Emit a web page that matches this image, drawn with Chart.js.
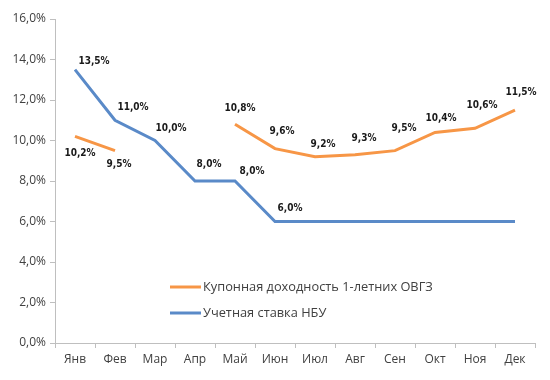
<!DOCTYPE html>
<html>
<head>
<meta charset="utf-8">
<script src="https://cdn.jsdelivr.net/npm/chart.js@4/dist/chart.umd.min.js"></script>
<style>
html,body{margin:0;padding:0;background:#fff;}
#wrap{width:550px;height:380px;position:relative;}
</style>
</head>
<body>
<div id="wrap"><canvas id="c" width="550" height="380"></canvas></div>
<script>
const categories = ['Янв','Фев','Мар','Апр','Май','Июн','Июл','Авг','Сен','Окт','Ноя','Дек'];
const seriesNames = ['Купонная доходность 1-летних ОВГЗ','Учетная ставка НБУ'];
const ovgzValues = [10.2, 9.5, null, null, 10.8, 9.6, 9.2, 9.3, 9.5, 10.4, 10.6, 11.5];
const nbuValues = [13.5, 11.0, 10.0, 8.0, 8.0, 6.0, 6.0, 6.0, 6.0, 6.0, 6.0, 6.0];
const nbuLabelShown = [true, true, true, true, true, true, false, false, false, false, false, false];
const yTicks = [0, 2, 4, 6, 8, 10, 12, 14, 16];

// label offset styling (px), per point
const ovgzLabelOffsets = [[5,17],[4,14],[0,0],[0,0],[5,-16],[7,-17],[8,-12],[9,-16],[9,-22],[6,-14],[7,-23],[6,-18]];
const nbuLabelOffsets = [[19,-8],[18,-13],[16,-12],[14,-17],[17,-10],[15,-13],[0,0],[0,0],[0,0],[0,0],[0,0],[0,0]];

const fmt = v => v.toFixed(1).replace('.', ',') + '%';

const labelPlugin = {
  id: 'pointLabels',
  afterDatasetsDraw(chart) {
    const ctx = chart.ctx;
    ctx.save();
    ctx.font = 'bold 10px "DejaVu Sans Condensed", "DejaVu Sans", sans-serif';
    ctx.fillStyle = '#1a1a1a';
    ctx.textAlign = 'center';
    ctx.textBaseline = 'middle';
    chart.data.datasets.forEach((ds, di) => {
      const meta = chart.getDatasetMeta(di);
      meta.data.forEach((pt, i) => {
        const v = ds.data[i];
        if (v === null || v === undefined) return;
        if (ds.showLabel && !ds.showLabel[i]) return;
        const off = ds.labelOffsets[i];
        ctx.fillText(fmt(v), pt.x + off[0], pt.y + off[1]);
      });
    });
    ctx.restore();
  }
};

const legendPlugin = {
  id: 'innerLegend',
  afterDraw(chart) {
    const ctx = chart.ctx;
    ctx.save();
    ctx.font = '12.8px "Open Sans", "Noto Sans", sans-serif';
    ctx.textBaseline = 'middle';
    ctx.textAlign = 'left';
    const x0 = 170, ys = [287, 313];
    chart.data.datasets.forEach((ds, i) => {
      ctx.strokeStyle = ds.borderColor;
      ctx.lineWidth = 3;
      ctx.beginPath();
      ctx.moveTo(x0, ys[i]);
      ctx.lineTo(x0 + 31, ys[i]);
      ctx.stroke();
      ctx.fillStyle = '#404040';
      ctx.fillText(ds.label, x0 + 33, ys[i]);
    });
    ctx.restore();
  }
};

new Chart(document.getElementById('c'), {
  type: 'line',
  data: {
    labels: categories,
    datasets: [
      {
        label: seriesNames[0],
        data: ovgzValues,
        borderColor: '#F79646',
        backgroundColor: '#F79646',
        borderWidth: 3,
        pointRadius: 0,
        tension: 0,
        spanGaps: false,
        labelOffsets: ovgzLabelOffsets
      },
      {
        label: seriesNames[1],
        data: nbuValues,
        borderColor: '#5A8AC8',
        backgroundColor: '#5A8AC8',
        borderWidth: 3,
        pointRadius: 0,
        tension: 0,
        labelOffsets: nbuLabelOffsets,
        showLabel: nbuLabelShown
      }
    ]
  },
  options: {
    responsive: false,
    animation: false,
    layout: { padding: { top: 19, right: 15, left: 0, bottom: 0 } },
    plugins: { legend: { display: false }, tooltip: { enabled: false } },
    scales: {
      x: {
        offset: true,
        grid: { offset: true, drawOnChartArea: false, drawTicks: true, tickLength: 5, color: '#BFBFBF' },
        border: { color: '#BFBFBF', width: 1 },
        ticks: { color: '#404040', font: { family: '"Open Sans", "Noto Sans", sans-serif', size: 12 }, padding: 4, maxRotation: 0 },
        afterFit(s) { s.height = 37; }
      },
      y: {
        min: 0, max: 16,
        afterBuildTicks(s) { s.ticks = yTicks.map(v => ({ value: v })); },
        grid: { drawOnChartArea: false, drawTicks: true, tickLength: 5, color: '#BFBFBF' },
        border: { color: '#BFBFBF', width: 1 },
        ticks: { color: '#404040', font: { family: '"Open Sans", "Noto Sans", sans-serif', size: 12 }, padding: 4, callback: v => fmt(v) },
        afterFit(s) { s.width = 55; }
      }
    }
  },
  plugins: [labelPlugin, legendPlugin]
});
</script>
</body>
</html>
